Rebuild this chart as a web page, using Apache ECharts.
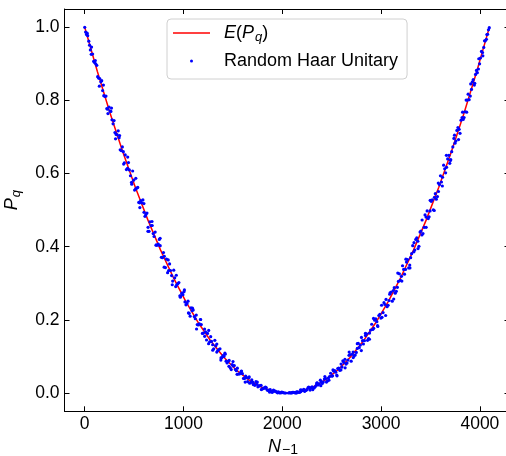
<!DOCTYPE html>
<html><head><meta charset="utf-8">
<script src="https://cdn.jsdelivr.net/npm/echarts@6/dist/echarts.min.js"></script>
<style>html,body{margin:0;padding:0;background:#fff}#c{width:506px;height:456px}</style>
</head><body><div id="c"></div>
<script>
// Tick labels
const xTicks = [0, 1000, 2000, 3000, 4000];
const yTicks = [0, 0.2, 0.4, 0.6, 0.8, 1.0];

// Expected value curve E(P_q)
const lineN = [0,128,256,384,512,640,768,896,1024,1152,1280,1408,1536,1664,1792,1920,2048,2176,2304,2432,2560,2688,2816,2944,3072,3200,3328,3456,3584,3712,3840,3968,4095];
const lineP = [1.0000,0.8789,0.7656,0.6602,0.5625,0.4727,0.3906,0.3164,0.2500,0.1914,0.1406,0.0977,0.0625,0.0352,0.0156,0.0039,0.0000,0.0039,0.0156,0.0352,0.0625,0.0977,0.1406,0.1914,0.2500,0.3164,0.3906,0.4727,0.5625,0.6602,0.7656,0.8789,0.9990];

// Random Haar Unitary samples (left branch)
const haarNLeft = [0,18,41,57,80,99,122,140,163,181,205,224,246,265,287,306,329,348,370,391,410,433,452,474,495,515,537,556,578,600,619,641,660,683,702,724,745,764,787,806,828,849,868,890,911,931,953,972,994,1015,1035,1057,1076,1098,1119,1139,1161,1180,1202,1223,1243,1265,1284,1306,1327,1347,1369,1388,1410,1431,1451,1473,1492,1514,1535,1555,1577,1596,1618,1639,1659,1681,1700,1722,1743,1763,1785,1804,1826,1847,1867,1889,1908,1930,1951,1971,1993,2012,2034];
const haarPLeft = [1.000,0.980,0.962,0.938,0.927,0.904,0.896,0.861,0.851,0.827,
  0.811,0.778,0.782,0.770,0.736,0.712,0.706,0.698,0.663,0.660,
  0.651,0.614,0.610,0.576,0.582,0.558,0.562,0.520,0.520,0.494,
  0.488,0.453,0.468,0.458,0.428,0.405,0.407,0.403,0.370,0.374,
  0.366,0.335,0.335,0.306,0.315,0.296,0.302,0.266,0.269,0.249,
  0.245,0.218,0.233,0.227,0.203,0.187,0.189,0.187,0.164,0.167,
  0.163,0.140,0.141,0.121,0.129,0.116,0.121,0.097,0.100,0.087,
  0.086,0.069,0.078,0.075,0.061,0.052,0.054,0.053,0.040,0.042,
  0.041,0.029,0.030,0.021,0.024,0.019,0.021,0.012,0.013,0.008,
  0.008,0.003,0.006,0.005,0.002,0.0004,0.0008,0.0007,0.0001];
const haarNLeft2 = [9,30,49,69,90,111,131,152,172,193,215,235,256,276,297,318,339,359,381,401,422,443,463,485,505,526,547,567,589,610,630,651,672,693,713,735,755,776,797,817,839,859,879,901,921,942,963,983,1005,1025,1046,1067,1087,1109,1129,1150,1171,1191,1213,1233,1254,1275,1295,1317,1337,1358,1379,1399,1421,1441,1462,1483,1503,1525,1545,1566,1587,1607,1629,1649,1670,1691,1711,1733,1753,1774,1795,1815,1837,1857,1878,1899,1919,1941,1961,1982,2003,2023];
const haarPLeft2 = [0.987,0.977,0.951,0.946,0.907,0.900,0.865,0.860,0.854,0.813,
  0.812,0.764,0.771,0.747,0.745,0.707,0.717,0.665,0.673,0.629,
  0.611,0.630,0.594,0.607,0.555,0.560,0.521,0.526,0.528,0.483,
  0.492,0.442,0.458,0.436,0.440,0.404,0.420,0.371,0.384,0.343,
  0.329,0.353,0.321,0.336,0.291,0.299,0.266,0.273,0.277,0.241,
  0.251,0.210,0.225,0.209,0.213,0.186,0.201,0.163,0.175,0.145,
  0.135,0.154,0.132,0.144,0.112,0.119,0.096,0.102,0.106,0.082,
  0.089,0.064,0.074,0.064,0.068,0.052,0.060,0.040,0.046,0.031,
  0.027,0.036,0.025,0.031,0.017,0.020,0.011,0.014,0.015,0.007,
  0.009,0.002,0.005,0.003,0.003,0.0006,0.0015,0.0001];
const haarNLeft3 = [25,66,107,148,189,230,271,312,353,394,435,476,517,558,599,640,681,722,763,804,845,886,927,968,1009,1050,1091,1132,1173,1214,1255,1296,1337,1378,1419,1460,1501,1542,1583,1624,1665,1706,1747,1788,1829,1870,1911,1952,1993];
const haarPLeft3 = [0.984,0.926,0.909,0.839,0.842,0.776,0.779,0.695,0.704,0.626,
  0.645,0.571,0.587,0.507,0.518,0.442,0.469,0.404,0.423,0.344,
  0.364,0.296,0.322,0.262,0.282,0.219,0.232,0.175,0.201,0.155,
  0.171,0.117,0.134,0.090,0.109,0.073,0.086,0.051,0.059,0.030,
  0.044,0.023,0.030,0.0095,0.016,0.0027,0.0078,0.0005,0.0022];

// Random Haar Unitary samples (right branch)
const haarNRight = [4095,4078,4055,4039,4016,3997,3974,3956,3933,3915,3891,3872,3850,3831,3809,3790,3767,3748,3726,3705,3686,3663,3644,3622,3601,3581,3559,3540,3518,3496,3477,3455,3436,3413,3394,3372,3351,3332,3309,3290,3268,3247,3228,3206,3185,3165,3143,3124,3102,3081,3061,3039,3020,2998,2977,2957,2935,2916,2894,2873,2853,2831,2812,2790,2769,2749,2727,2708,2686,2665,2645,2623,2604,2582,2561,2541,2519,2500,2478,2457,2437,2415,2396,2374,2353,2333,2311,2292,2270,2249,2229,2207,2188,2166,2145,2125,2103,2084,2062];
const haarPRight = [0.999,0.981,0.963,0.945,0.934,0.900,0.876,0.871,0.857,0.830,
  0.802,0.801,0.769,0.748,0.746,0.721,0.718,0.683,0.673,0.638,
  0.650,0.617,0.613,0.590,0.594,0.551,0.530,0.535,0.528,0.498,
  0.477,0.481,0.453,0.432,0.440,0.415,0.420,0.386,0.381,0.350,
  0.365,0.338,0.338,0.319,0.326,0.289,0.273,0.280,0.276,0.253,
  0.236,0.242,0.220,0.205,0.212,0.195,0.199,0.174,0.172,0.149,
  0.162,0.143,0.143,0.131,0.136,0.111,0.101,0.106,0.105,0.090,
  0.079,0.084,0.071,0.062,0.067,0.057,0.060,0.046,0.045,0.033,
  0.040,0.030,0.031,0.025,0.028,0.017,0.013,0.015,0.015,0.009,
  0.006,0.007,0.004,0.002,0.003,0.001,0.0012,0.0003,0.0000];
const haarNRight2 = [4087,4066,4047,4027,4006,3985,3965,3944,3924,3903,3881,3861,3840,3820,3799,3778,3757,3737,3715,3695,3674,3653,3633,3611,3591,3570,3549,3529,3507,3486,3466,3445,3424,3403,3383,3361,3341,3320,3299,3279,3257,3237,3217,3195,3175,3154,3133,3113,3091,3071,3050,3029,3009,2987,2967,2946,2925,2905,2883,2863,2842,2821,2801,2779,2759,2738,2717,2697,2675,2655,2634,2613,2593,2571,2551,2530,2509,2489,2467,2447,2426,2405,2385,2363,2343,2322,2301,2281,2259,2239,2218,2197,2177,2155,2135,2114,2093,2073];
const haarPRight2 = [0.993,0.967,0.963,0.931,0.916,0.886,0.882,0.842,0.851,0.812,
  0.817,0.801,0.753,0.753,0.710,0.726,0.689,0.696,0.660,0.628,
  0.640,0.602,0.623,0.577,0.570,0.537,0.545,0.501,0.524,0.482,
  0.498,0.487,0.436,0.443,0.401,0.424,0.391,0.403,0.370,0.342,
  0.358,0.325,0.348,0.308,0.305,0.278,0.288,0.251,0.274,0.240,
  0.256,0.247,0.207,0.215,0.182,0.203,0.177,0.188,0.164,0.144,
  0.157,0.134,0.152,0.124,0.122,0.104,0.112,0.087,0.103,0.082,
  0.092,0.088,0.063,0.068,0.049,0.061,0.047,0.054,0.041,0.030,
  0.038,0.026,0.035,0.022,0.021,0.014,0.017,0.008,0.014,0.007,
  0.010,0.008,0.002,0.003,0.0001,0.002,0.0001,0.0008];
const haarNRight3 = [4071,4030,3989,3948,3907,3866,3825,3784,3743,3702,3661,3620,3579,3538,3497,3456,3415,3374,3333,3292,3251,3210,3169,3128,3087,3046,3005,2964,2923,2882,2841,2800,2759,2718,2677,2636,2595,2554,2513,2472,2431,2390,2349,2308,2267,2226,2185,2144,2103];
const haarPRight3 = [0.980,0.922,0.914,0.847,0.845,0.768,0.768,0.693,0.705,0.636,
  0.650,0.566,0.574,0.499,0.527,0.453,0.473,0.395,0.411,0.342,
  0.366,0.306,0.328,0.257,0.270,0.212,0.240,0.184,0.204,0.147,
  0.163,0.116,0.135,0.097,0.112,0.069,0.079,0.047,0.063,0.035,
  0.045,0.020,0.027,0.009,0.016,0.0046,0.0086,0.0001,0.0015];

const pairs = (ns, ps) => ns.map((n, i) => [n, ps[i]]);
const lineData = pairs(lineN, lineP);
const haarData = [].concat(
  pairs(haarNLeft, haarPLeft), pairs(haarNLeft2, haarPLeft2), pairs(haarNLeft3, haarPLeft3),
  pairs(haarNRight, haarPRight), pairs(haarNRight2, haarPRight2), pairs(haarNRight3, haarPRight3));

const FONT = "'Liberation Sans', Arial, Helvetica, sans-serif";
const AX = {color: '#000', width: 1};

const chart = echarts.init(document.getElementById('c'), null, {renderer: 'canvas'});
chart.setOption({
  animation: false,
  backgroundColor: '#fff',
  grid: {left: 64.5, top: 9, width: 445, height: 402.3, containLabel: false, outerBoundsMode: 'none'},
  xAxis: [{
    type: 'value', min: -204.75, max: 4299.75, position: 'bottom',
    axisLine: {onZero: false, lineStyle: AX},
    axisTick: {inside: true, length: 5, customValues: xTicks, lineStyle: AX},
    axisLabel: {customValues: xTicks, color: '#000', fontSize: 17.5, fontFamily: FONT, margin: 4,
      formatter: v => String(v)},
    splitLine: {show: false},
    name: '{i|N}{s|\u22121}', nameLocation: 'middle', nameGap: 22,
    nameTextStyle: {color: '#000', fontFamily: FONT, fontSize: 18, padding: [0, 8, 0, 0],
      rich: {i: {fontStyle: 'italic', fontSize: 18, fontFamily: FONT, color: '#000', lineHeight: 20},
             s: {fontSize: 14, fontFamily: FONT, color: '#000', padding: [6, 0, 0, 1]}}}
  }, {
    type: 'value', min: -204.75, max: 4299.75, position: 'top',
    axisLine: {onZero: false, lineStyle: AX},
    axisTick: {inside: true, length: 5, customValues: xTicks, lineStyle: AX},
    axisLabel: {show: false}, splitLine: {show: false}
  }],
  yAxis: [{
    type: 'value', min: -0.05, max: 1.05, position: 'left',
    axisLine: {onZero: false, lineStyle: AX},
    axisTick: {inside: true, length: 5, customValues: yTicks, lineStyle: AX},
    axisLabel: {customValues: yTicks, color: '#000', fontSize: 17.5, fontFamily: FONT, margin: 5,
      formatter: v => v.toFixed(1)},
    splitLine: {show: false},
    name: '{i|P}{s|q}', nameLocation: 'middle', nameGap: 42, nameRotate: 90,
    nameTextStyle: {color: '#000', fontFamily: FONT, fontSize: 18, padding: [0, 0, 0, 20],
      rich: {i: {fontStyle: 'italic', fontSize: 18, fontFamily: FONT, color: '#000'},
             s: {fontStyle: 'italic', fontSize: 13, fontFamily: FONT, color: '#000', padding: [9, 0, 0, 1]}}}
  }, {
    type: 'value', min: -0.05, max: 1.05, position: 'right',
    axisLine: {onZero: false, lineStyle: AX},
    axisTick: {inside: true, length: 5, customValues: yTicks, lineStyle: AX},
    axisLabel: {show: false}, splitLine: {show: false}
  }],
  legend: {
    orient: 'vertical', left: 167, top: 19,
    padding: [5, 9, 9, 6], itemGap: 8, itemWidth: 37, itemHeight: 3,
    backgroundColor: '#fff', borderColor: '#d0d0d0', borderWidth: 1, borderRadius: 4,
    data: [{name: 'E(P_q)', icon: 'path://M0,0 L100,0 L100,4 L0,4 Z'},
           {name: 'Random Haar Unitary', icon: 'circle'}],
    formatter: name => name === 'E(P_q)' ? '{i|E}{n|(}{i|P}{s|q}{n|)}' : '{n|' + name + '}',
    textStyle: {fontFamily: FONT, fontSize: 18, color: '#000', padding: [0, 0, 0, 9],
      rich: {
        n: {fontFamily: FONT, fontSize: 18, color: '#000', lineHeight: 20},
        i: {fontFamily: FONT, fontSize: 18, fontStyle: 'italic', color: '#000', lineHeight: 20},
        s: {fontFamily: FONT, fontSize: 13, fontStyle: 'italic', color: '#000', padding: [9, 0, 0, 1]}
      }}
  },
  series: [{
    name: 'E(P_q)', type: 'line', data: lineData, xAxisIndex: 0, yAxisIndex: 0,
    symbol: 'none', showSymbol: false, smooth: false, lineStyle: {color: '#ff0000', width: 1.5},
    itemStyle: {color: '#ff0000'}, z: 2
  }, {
    name: 'Random Haar Unitary', type: 'scatter', data: haarData, xAxisIndex: 0, yAxisIndex: 0,
    symbol: 'circle', symbolSize: 3.2, itemStyle: {color: '#0000ff', opacity: 1}, z: 3
  }]
});
</script></body></html>
